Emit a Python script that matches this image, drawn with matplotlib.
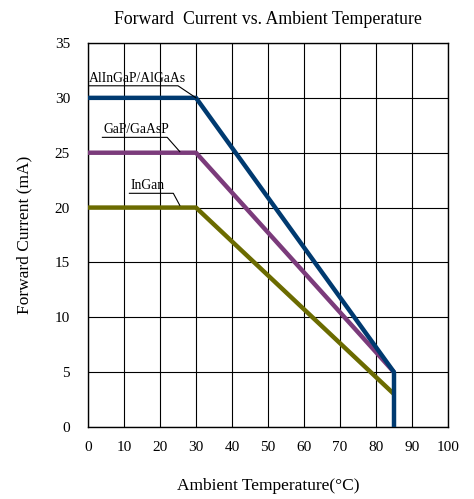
import matplotlib.pyplot as plt

# curve data (temperature, current)
blue_t = [0, 30, 85, 85]
blue_i = [30, 30, 5, 0]
purple_t = [0, 30, 85]
purple_i = [25, 25, 5]
olive_t = [0, 30, 85]
olive_i = [20, 20, 3]

labels = ["AlInGaP/AlGaAs", "GaP/GaAsP", "InGan"]
# label text position, underline span, leader end point
label_pos = [(0.3, 31.2), (4.3, 26.5), (11.7, 21.4)]
under_x = [(0, 25), (4, 22), (11.5, 23.7)]
under_y = [31.1, 26.4, 21.3]
leader_end = [(30, 30), (25.5, 25.1), (25.5, 20.2)]

xticks = list(range(0, 101, 10))
yticks = list(range(0, 36, 5))

plt.rcParams['font.family'] = ['Liberation Serif', 'DejaVu Serif']

fig = plt.figure(figsize=(4.74, 4.99), dpi=100)
ax = fig.add_axes([88 / 474, 1 - 427 / 499, 360 / 474, 384 / 499])

ax.plot(olive_t, olive_i, color='#6b6b00', lw=3.2, solid_capstyle='butt', zorder=3)
ax.plot(purple_t, purple_i, color='#7b3b7b', lw=3.2, solid_capstyle='butt', zorder=3)
ax.plot(blue_t, blue_i, color='#003a70', lw=3.2, solid_capstyle='butt', zorder=4)

for lab, p, ux, uy, le in zip(labels, label_pos, under_x, under_y, leader_end):
    ax.text(p[0], p[1], lab, fontsize=9.8, ha='left', va='bottom', zorder=5)
    ax.plot([ux[0], ux[1], le[0]], [uy, uy, le[1]], color='black', lw=0.8, zorder=5)

ax.set_xlim(0, 100)
ax.set_ylim(0, 35)
ax.set_xticks(xticks)
ax.set_yticks(yticks)
ax.tick_params(length=0, labelsize=11, pad=10)
ax.tick_params(axis='y', pad=13)
ax.grid(True, color='black', lw=0.8)
ax.set_axisbelow(True)
for s in ax.spines.values():
    s.set_linewidth(1.0)

ax.set_title("Forward  Current vs. Ambient Temperature", fontsize=12.8, pad=14)
ax.set_xlabel("Ambient Temperature(\u00b0C)", fontsize=12.5, labelpad=17)
ax.set_ylabel("Forward Current (mA)", fontsize=12.5, labelpad=16)

fig.savefig("out.png", dpi=100)
